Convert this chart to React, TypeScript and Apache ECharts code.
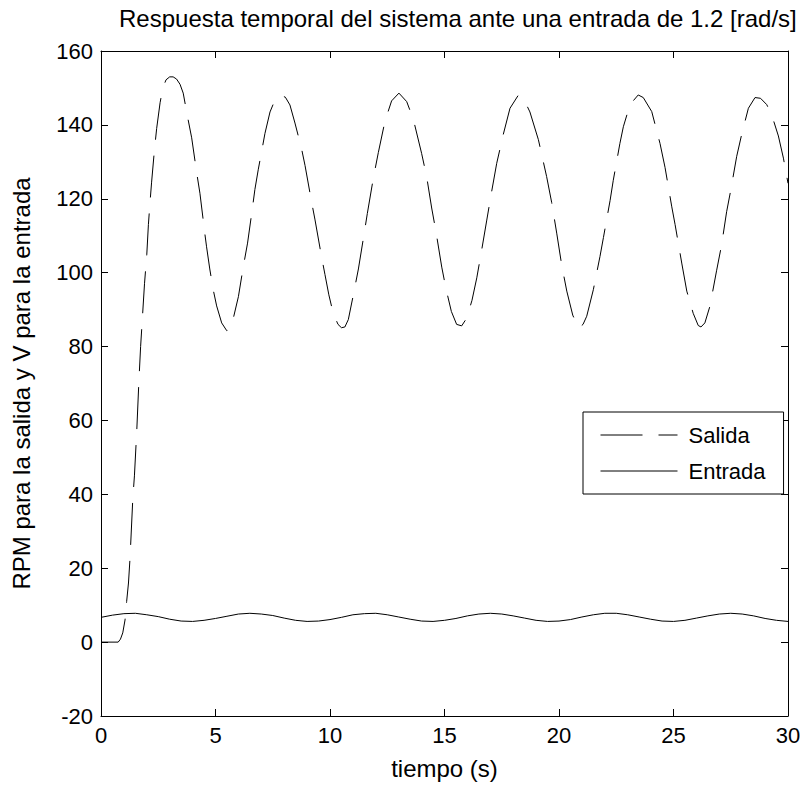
import React, { useEffect, useRef } from "react";
import * as echarts from "echarts";

const titleText = "Respuesta temporal del sistema ante una entrada de 1.2 [rad/s]";
const xAxisName = "tiempo (s)";
const yAxisName = "RPM para la salida y V para la entrada";
const xTicks = [0, 5, 10, 15, 20, 25, 30];
const yTicks = [-20, 0, 20, 40, 60, 80, 100, 120, 140, 160];
const seriesNames = ["Salida", "Entrada"];

const salidaTime = [
  0, 0.75, 0.85, 0.95, 1.05, 1.12, 1.2, 1.27, 1.39, 1.46, 1.56, 1.65, 1.73, 1.82, 1.9, 2.0,
  2.07, 2.14, 2.21, 2.33, 2.43, 2.58, 2.7, 2.84, 3.0, 3.15, 3.3, 3.45, 3.59, 3.77, 3.96,
  4.18, 4.32, 4.54, 4.61, 4.75, 4.9, 5.05, 5.27, 5.49, 5.6, 5.78, 6.0, 6.21, 6.4, 6.58,
  6.72, 6.87, 7.02, 7.16, 7.38, 7.6, 7.82, 8.05, 8.25, 8.47, 8.76, 8.91, 9.2, 9.34, 9.64,
  9.78, 9.95, 10.14, 10.35, 10.5, 10.65, 10.8, 11.02, 11.24, 11.45, 11.63, 11.89, 12.11,
  12.4, 12.69, 13.01, 13.35, 13.64, 14.0, 14.22, 14.44, 14.63, 14.88, 15.07, 15.3, 15.53,
  15.75, 15.97, 16.2, 16.41, 16.62, 16.84, 17.06, 17.28, 17.57, 17.86, 18.23, 18.5, 18.73,
  19.1, 19.46, 19.68, 19.9, 20.12, 20.34, 20.6, 20.85, 21.05, 21.21, 21.5, 21.79, 21.94,
  22.23, 22.37, 22.66, 22.81, 23.1, 23.46, 23.68, 24.05, 24.41, 24.63, 24.92, 25.07, 25.36,
  25.58, 25.86, 26.08, 26.2, 26.37, 26.59, 26.88, 27.1, 27.32, 27.49, 27.76, 27.98, 28.27,
  28.56, 28.8, 29.07, 29.3, 29.58, 29.8, 30.0,
];
const salidaValue = [
  0, 0, 0.8, 2.5, 6, 11, 16, 23, 39, 45, 57, 70, 80, 89, 97, 105,
  113, 119, 124.5, 133, 139, 146, 150, 152.2, 153, 153, 152.4, 151, 148.6, 142.5, 136.5,
  127, 121.5, 110.3, 107, 101, 95.4, 91, 86.4, 84.3, 84.5, 87.7, 93.5, 101.5, 108, 116,
  122.5, 128, 133, 137.7, 143.5, 146.8, 148, 147.5, 145.4, 140.5, 133.5, 129, 119, 114.5, 104,
  99.5, 94, 89, 86, 85.1, 85.3, 87.3, 94, 101, 109, 116, 125.5, 132.5,
  141, 146.5, 148.6, 146.3, 141.5, 132.3, 126, 117.5, 111, 101.5, 95.5, 89.5, 86,
  85.6, 87.7, 92.5, 98.6, 106, 114, 122, 129.6, 137.5, 144.5, 148.1, 146.5, 143.5,
  136, 126, 119, 110.7, 102, 95, 88.5, 85, 86, 88.2, 95.4, 104.4, 109.5,
  119.5, 125, 135, 139.5, 145.5, 148.1, 147.4, 143.6, 135, 128.5, 118, 113, 102.6,
  95, 89, 85.7, 85.3, 86.4, 90.9, 100.5, 107.5, 116.5, 122, 131.5, 137.5, 144.5,
  147.4, 147.2, 145.5, 142.5, 137, 131, 124.2,
];

const entradaTime = [
  0, 0.5, 1, 1.5, 2, 2.5, 3, 3.5, 4, 4.5, 5, 5.5, 6, 6.5, 7, 7.5, 8, 8.5, 9, 9.5, 10,
  10.5, 11, 11.5, 12, 12.5, 13, 13.5, 14, 14.5, 15, 15.5, 16, 16.5, 17, 17.5, 18, 18.5,
  19, 19.5, 20, 20.5, 21, 21.5, 22, 22.5, 23, 23.5, 24, 24.5, 25, 25.5, 26, 26.5, 27,
  27.5, 28, 28.5, 29, 29.5, 30,
];
const entradaValue = [
  6.7, 7.3, 7.7, 7.8, 7.4, 6.9, 6.2, 5.7, 5.6, 5.9, 6.4, 7.0, 7.6, 7.8, 7.6, 7.2, 6.5,
  5.9, 5.6, 5.7, 6.1, 6.7, 7.4, 7.7, 7.8, 7.4, 6.8, 6.2, 5.7, 5.6, 5.9, 6.4, 7.1, 7.6,
  7.8, 7.6, 7.1, 6.5, 5.9, 5.6, 5.7, 6.1, 6.8, 7.4, 7.8, 7.8, 7.4, 6.8, 6.2, 5.7, 5.6,
  5.9, 6.5, 7.1, 7.6, 7.8, 7.6, 7.1, 6.4, 5.9, 5.6,
];

const FONT = "'Liberation Sans', Arial, sans-serif";

export default function App() {
  const ref = useRef<HTMLDivElement>(null);
  useEffect(() => {
    if (!ref.current) return;
    const chart = echarts.init(ref.current, undefined, { renderer: "svg" });
    const salida = salidaTime.map((t, i) => [t, salidaValue[i]]);
    const entrada = entradaTime.map((t, i) => [t, entradaValue[i]]);
    const xMin = xTicks[0];
    const xMax = xTicks[xTicks.length - 1];
    const xStep = xTicks[1] - xTicks[0];
    const yMin = yTicks[0];
    const yMax = yTicks[yTicks.length - 1];
    const yStep = yTicks[1] - yTicks[0];
    const axisLine = { show: true, onZero: false, lineStyle: { color: "#000", width: 1 } };
    const axisTick = { show: true, inside: true, length: 7, lineStyle: { color: "#000", width: 1 } };
    chart.setOption({
      animation: false,
      backgroundColor: "#fff",
      textStyle: { fontFamily: FONT },
      title: {
        text: titleText,
        left: 119,
        top: 6,
        padding: 0,
        textStyle: { fontFamily: FONT, fontSize: 24, fontWeight: "normal", color: "#000" },
      },
      legend: {
        data: seriesNames,
        orient: "vertical",
        left: 583,
        top: 412,
        padding: [11, 18, 11, 17],
        itemWidth: 77,
        itemHeight: 14,
        itemGap: 12,
        borderColor: "#000",
        borderWidth: 1,
        backgroundColor: "#fff",
        itemStyle: { opacity: 0 },
        lineStyle: { width: 1 },
        textStyle: { fontFamily: FONT, fontSize: 22, color: "#000", lineHeight: 24, padding: [0, 0, 0, 6] },
      },
      grid: { left: 101, right: 18, top: 51, bottom: 68, containLabel: false },
      xAxis: [
        {
          type: "value",
          min: xMin,
          max: xMax,
          interval: xStep,
          name: xAxisName,
          nameLocation: "middle",
          nameGap: 40,
          nameTextStyle: { fontFamily: FONT, fontSize: 24, color: "#000" },
          axisLine,
          axisTick,
          splitLine: { show: false },
          axisLabel: { fontFamily: FONT, fontSize: 22, color: "#000", margin: 8 },
        },
        {
          type: "value",
          position: "top",
          min: xMin,
          max: xMax,
          interval: xStep,
          axisLine,
          axisTick,
          splitLine: { show: false },
          axisLabel: { show: false },
        },
      ],
      yAxis: [
        {
          type: "value",
          min: yMin,
          max: yMax,
          interval: yStep,
          name: yAxisName,
          nameLocation: "middle",
          nameGap: 68,
          nameTextStyle: { fontFamily: FONT, fontSize: 24, color: "#000" },
          axisLine,
          axisTick,
          splitLine: { show: false },
          axisLabel: { fontFamily: FONT, fontSize: 22, color: "#000", margin: 8 },
        },
        {
          type: "value",
          position: "right",
          min: yMin,
          max: yMax,
          interval: yStep,
          axisLine,
          axisTick,
          splitLine: { show: false },
          axisLabel: { show: false },
        },
      ],
      series: [
        {
          name: seriesNames[0],
          type: "line",
          data: salida,
          showSymbol: false,
          symbol: "none",
          lineStyle: { color: "#000", width: 1, type: [42, 16] },
          itemStyle: { color: "#000" },
        },
        {
          name: seriesNames[1],
          type: "line",
          data: entrada,
          showSymbol: false,
          symbol: "none",
          lineStyle: { color: "#000", width: 1, type: "solid" },
          itemStyle: { color: "#000" },
        },
      ],
    });
    return () => chart.dispose();
  }, []);
  return (
    <div
      ref={ref}
      style={{ position: "absolute", left: 0, top: 0, width: 806, height: 785, background: "#fff" }}
    />
  );
}
